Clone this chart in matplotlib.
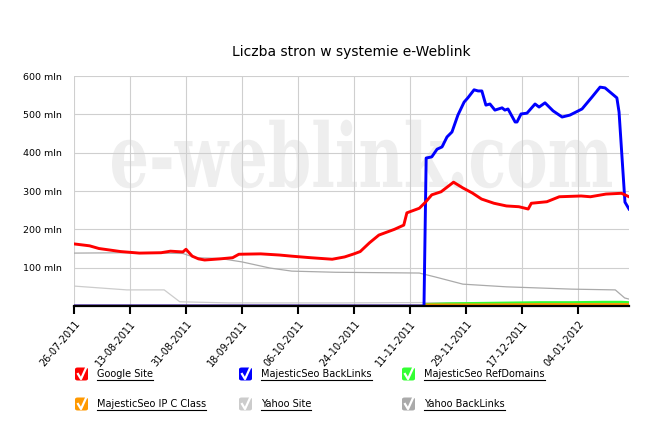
import datetime as dt
import matplotlib
matplotlib.use("Agg")
import matplotlib.pyplot as plt
from matplotlib.textpath import TextPath
from matplotlib.font_manager import FontProperties
from matplotlib.patches import PathPatch, FancyBboxPatch
from matplotlib.lines import Line2D
from matplotlib.transforms import Affine2D

# Data (day offsets from 26-07-2011, values in mln)
start = dt.datetime(2011, 7, 26)
end_day = 178.4

google_days = [0, 5, 8, 15, 21, 28, 31, 35, 36, 38, 40, 42, 47, 51, 53, 60, 66, 70, 76, 83,
               87, 90, 92, 95, 98, 103, 106, 107, 111, 113, 115, 118, 122, 125, 128, 131,
               135, 139, 143, 146, 147, 152, 156, 163, 166, 171, 176, 178.4]
google_vals = [162, 157, 150, 142, 138, 139, 143, 141, 148, 130, 123, 120, 123, 126, 135, 136,
               133, 130, 126, 122, 128, 136, 142, 165, 185, 200, 211, 243, 255, 271, 290, 298,
               323, 308, 295, 279, 268, 261, 259, 253, 268, 272, 285, 287, 285, 292, 294, 285]

backlinks_days = [0, 112.5, 113.2, 115, 116.7, 118.3, 119.9, 121.5, 123.4, 125.4, 126.6, 128.6,
                  129.9, 131.1, 132.4, 133.7, 135.3, 137.6, 138.5, 139.5, 141.8, 142.4, 143.7,
                  145.6, 148.2, 149.5, 151.4, 154, 156.9, 159.4, 163.3, 166.5, 169.1, 170.7,
                  174.5, 175.2, 177.1, 178.4]
backlinks_vals = [0, 0, 386, 389, 409, 415, 441, 454, 498, 532, 543, 564, 561, 561, 524, 527,
                  511, 517, 511, 514, 480, 480, 501, 503, 527, 519, 530, 509, 493, 498, 514,
                  545, 571, 569, 543, 506, 271, 253]

refdomains_days = [113, 120, 130, 140, 150, 160, 170, 176, 178.4]
refdomains_vals = [4, 6, 7, 8, 9, 9, 10, 10, 9]

ipc_days = [0, 112.5, 113.2, 130, 150, 170, 178.4]
ipc_vals = [0, 0, 3, 3, 4, 4, 4]

ysite_days = [0, 17, 29, 34, 50, 86, 112, 140, 170, 178.4]
ysite_vals = [52, 42, 42, 11, 8, 8, 9, 7, 7, 4]

ybl_days = [0, 18, 35, 39, 47, 54, 63, 70, 84, 111, 116, 125, 139, 160, 174, 177, 178.4]
ybl_vals = [138, 139, 137, 126, 124, 115, 99, 91, 88, 86, 76, 57, 50, 44, 42, 21, 18]

tick_labels = ["26-07-2011", "13-08-2011", "31-08-2011", "18-09-2011", "06-10-2011",
               "24-10-2011", "11-11-2011", "29-11-2011", "17-12-2011", "04-01-2012"]

series = [
    ("Google Site", "#ff0000", google_days, google_vals, 2.1, 6),
    ("MajesticSeo BackLinks", "#0000ff", backlinks_days, backlinks_vals, 2.1, 5),
    ("MajesticSeo RefDomains", "#33ff33", refdomains_days, refdomains_vals, 2.0, 4),
    ("MajesticSeo IP C Class", "#ff9900", ipc_days, ipc_vals, 2.0, 4.5),
    ("Yahoo Site", "#cccccc", ysite_days, ysite_vals, 0.9, 3),
    ("Yahoo BackLinks", "#aaaaaa", ybl_days, ybl_vals, 0.9, 3),
]


def to_dates(days):
    return [start + dt.timedelta(days=d) for d in days]


W, H = 665, 436
fig = plt.figure(figsize=(W / 100, H / 100), dpi=100)
fig.patch.set_facecolor("white")
ax = fig.add_axes([74 / W, 1 - 306 / H, (629 - 74) / W, (306 - 76) / H])

# watermark
fp = FontProperties(family="DejaVu Serif", weight="bold")
tp = TextPath((0, 0), "e-weblink.com", size=100, prop=fp)
xh = TextPath((0, 0), "x", size=100, prop=fp).get_extents().height
ext = tp.get_extents()
sx = (612 - 112) / ext.width
sy = 46 / xh
tr = Affine2D().translate(-ext.x0, 0).scale(sx / W, sy / H).translate(112 / W, 1 - 187 / H)
wm = PathPatch(tr.transform_path(tp), facecolor="#eeeeee", edgecolor="none",
               transform=fig.transFigure, zorder=0.1)
ax.add_patch(wm)

for name, color, days, vals, lw, z in series:
    ax.plot(to_dates(days), vals, color=color, lw=lw, zorder=z, solid_joinstyle="round")

ax.set_xlim(start, start + dt.timedelta(days=end_day))
ax.set_ylim(0, 600)
ticks = [start + dt.timedelta(days=18 * i) for i in range(len(tick_labels))]
ax.set_xticks(ticks)
ax.set_xticklabels(tick_labels, rotation=50, ha="right", va="top",
                   rotation_mode="anchor", fontsize=7)
ax.set_yticks([100, 200, 300, 400, 500, 600])
ax.set_yticklabels([f"{v} mln" for v in [100, 200, 300, 400, 500, 600]], fontsize=6.8)
ax.tick_params(axis="y", length=0, pad=8.5)
ax.tick_params(axis="x", length=6, width=1.5, color="black", pad=3)
ax.grid(True, color="#cfcfcf", lw=0.8)
ax.set_axisbelow(True)
for s in ["top", "right", "left"]:
    ax.spines[s].set_visible(False)
ax.spines["bottom"].set_linewidth(1.6)
ax.spines["bottom"].set_zorder(7)

fig.text(351 / W, 1 - 52 / H, "Liczba stron w systemie e-Weblink", ha="center", va="center",
         fontsize=10)

# legend with check boxes
cols = [75, 239, 402]
rows = [374, 404]
texts = []
for i, (name, color, *_rest) in enumerate(series):
    cx = cols[i % 3]
    cy = rows[i // 3]
    box = FancyBboxPatch((cx / W, 1 - (cy + 6.5) / H), 13 / W, 13 / H,
                         boxstyle="round,pad=0,rounding_size=0.004",
                         facecolor=color, edgecolor="none", transform=fig.transFigure)
    fig.patches.append(box)
    chk = Line2D([(cx + 3) / W, (cx + 6) / W, (cx + 11) / W],
                 [1 - (cy + 0) / H, 1 - (cy + 5) / H, 1 - (cy - 6) / H],
                 color="white", lw=1.6, transform=fig.transFigure)
    fig.lines.append(chk)
    t = fig.text((cx + 22) / W, 1 - cy / H, name, ha="left", va="center", fontsize=7)
    texts.append(t)

fig.canvas.draw()
r = fig.canvas.get_renderer()
inv = fig.transFigure.inverted()
for t in texts:
    bb = t.get_window_extent(r)
    (x0, y0), (x1, _) = inv.transform([(bb.x0, bb.y0 - 0.5), (bb.x1, bb.y0)])
    fig.lines.append(Line2D([x0, x1], [y0, y0], color="black", lw=0.8,
                            transform=fig.transFigure))

fig.savefig("out.png", dpi=100)
